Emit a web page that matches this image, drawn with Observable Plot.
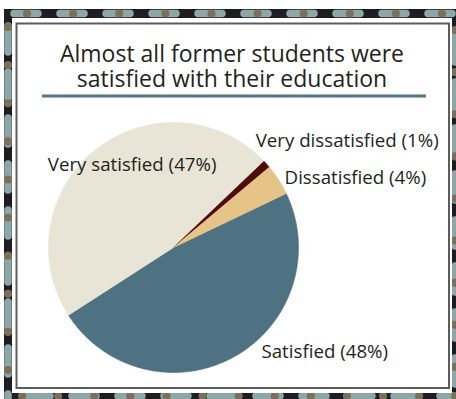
<!DOCTYPE html>
<html><head>
<meta charset="utf-8">
<script src="https://cdn.jsdelivr.net/npm/d3@7"></script>
<script src="https://cdn.jsdelivr.net/npm/@observablehq/plot@0.6"></script>
<style>
body{margin:0;background:#fff}
#wrap{position:relative;width:456px;height:399px;overflow:hidden;font-family:"Open Sans",sans-serif}
#deco,#chart{position:absolute;left:0;top:0}
#chart svg{background:transparent}
.tl{position:absolute;left:0;width:464px;height:24px;text-align:center;font-size:23px;line-height:24px;color:#231f20;white-space:nowrap}
</style></head>
<body>
<div id="wrap">
<svg id="deco" width="456" height="399">
  <rect x="4" y="9" width="460" height="400" fill="#1d1d22"/>
  <g stroke-linecap="round" stroke-width="7.5" fill="none">
    <path d="M14,13.5H456" stroke="#8da7a7" stroke-dasharray="24 22"/>
    <path d="M8,20V399" stroke="#8da7a7" stroke-dasharray="26 20" stroke-dashoffset="-6"/>
    <path d="M455,20V399" stroke="#8da7a7" stroke-dasharray="26 20" stroke-dashoffset="-16"/>
    <path d="M14,396H456" stroke="#8da7a7" stroke-dasharray="24 22" stroke-dashoffset="-12"/>
  </g>
  <g stroke-linecap="round" stroke-width="8" fill="none" stroke="#7b705b">
    <path d="M27,13.5H456" stroke-dasharray="0.1 46"/>
    <path d="M8,27V399" stroke-dasharray="0.1 38"/>
    <path d="M455,30V399" stroke-dasharray="0.1 42"/>
    <path d="M22,396H456" stroke-dasharray="0.1 36"/>
  </g>
  <rect x="12" y="18" width="440" height="375" fill="#ffffff"/>
  <rect x="16.5" y="23.5" width="432.5" height="364.5" fill="none" stroke="#5c5c5c" stroke-width="2"/>
  <line x1="42" x2="426" y1="96" y2="96" stroke="#587585" stroke-width="3"/>
</svg>
<div class="tl" style="top:41px">Almost all former students were</div>
<div class="tl" style="top:66px">satisfied with their education</div>
<div id="chart"></div>
</div>
<script>
// ---- data ----
const categories = ["Satisfied", "Very satisfied", "Very dissatisfied", "Dissatisfied"];
const values = [48, 47, 1, 4];
const colors = ["#4e7282", "#e9e5d6", "#4f0b0b", "#e6c386"];

// ---- layout (not data) ----
const cx = 173, cy = 247, R = 125;
const startDeg = 64.4;
const labelLayout = {
  "Satisfied":         {rf: 1.0, dx: 27,  dy: -5,   anchor: "start"},
  "Very satisfied":    {rf: 0.6, dx: 5,   dy: -24,  anchor: "middle"},
  "Very dissatisfied": {rf: 1.0, dx: -11, dy: -22.7, anchor: "start"},
  "Dissatisfied":      {rf: 1.0, dx: 6,   dy: -1.3, anchor: "start"}
};

const rows = categories.map((c, i) => ({cat: c, value: values[i]}));
const a0 = startDeg * Math.PI / 180;
const arcs = d3.pie().sort(null).value(d => d.value).startAngle(a0).endAngle(a0 + 2 * Math.PI)(rows);

const pts = [];
for (const a of arcs) {
  const cat = a.data.cat;
  pts.push({cat, x: 0, y: 0});
  const n = Math.max(2, Math.ceil((a.endAngle - a.startAngle) / 0.01));
  for (let k = 0; k <= n; k++) {
    const t = a.startAngle + (a.endAngle - a.startAngle) * k / n;
    pts.push({cat, x: Math.sin(t), y: Math.cos(t)});
  }
  pts.push({cat, x: 0, y: 0});
}

const labelMarks = arcs.map(a => {
  const L = labelLayout[a.data.cat];
  const m = (a.startAngle + a.endAngle) / 2;
  return Plot.text([{x: L.rf * Math.sin(m), y: L.rf * Math.cos(m), t: `${a.data.cat} (${a.data.value}%)`}], {
    x: "x", y: "y", text: "t", dx: L.dx, dy: L.dy, textAnchor: L.anchor,
    fontSize: 18.7, fill: "#231f20"
  });
});

const chart = Plot.plot({
  width: 456, height: 399, margin: 0,
  x: {domain: [-1, 1], range: [cx - R, cx + R], axis: null},
  y: {domain: [-1, 1], range: [cy + R, cy - R], axis: null},
  color: {domain: categories, range: colors},
  style: {background: "transparent", fontFamily: "'Open Sans', sans-serif", overflow: "visible"},
  marks: [
    Plot.line(pts, {x: "x", y: "y", z: "cat", fill: "cat", stroke: "cat", strokeWidth: 0.6}),
    ...labelMarks
  ]
});
document.getElementById("chart").appendChild(chart);
</script>
</body></html>
